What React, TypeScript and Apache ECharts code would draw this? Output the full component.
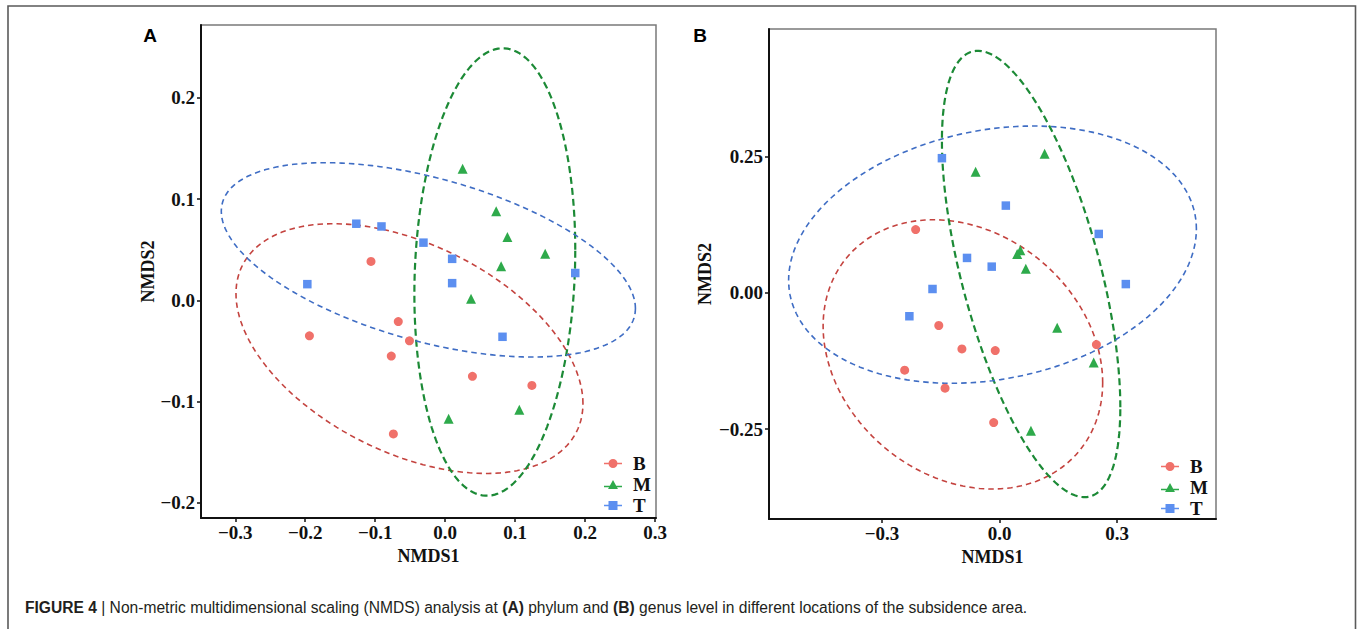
import React, { useEffect, useRef } from 'react';
import * as echarts from 'echarts';

const groups = ['B', 'M', 'T'];
const pointColors = ['#F0716A', '#2EAA4B', '#5C8FF0'];
const ellipseColors = ['#C4433F', '#1C8A36', '#3F6DC4'];

// Panel A (phylum level)
const phylumB = [[-0.106, 0.0385], [-0.194, -0.035], [-0.067, -0.021], [-0.051, -0.04], [-0.077, -0.055], [0.039, -0.075], [0.124, -0.084], [-0.074, -0.132]];
const phylumM = [[0.025, 0.13], [0.073, 0.088], [0.089, 0.0625], [0.143, 0.046], [0.08, 0.0336], [0.037, 0.0016], [0.005, -0.117], [0.106, -0.108]];
const phylumT = [[-0.127, 0.0757], [-0.091, 0.073], [-0.031, 0.057], [0.01, 0.041], [0.01, 0.017], [-0.197, 0.016], [0.186, 0.027], [0.082, -0.036]];

// Panel B (genus level)
const genusB = [[-0.214, 0.116], [-0.155, -0.06], [-0.096, -0.103], [-0.011, -0.106], [-0.242, -0.142], [-0.139, -0.175], [0.247, -0.095], [-0.015, -0.238]];
const genusM = [[0.115, 0.255], [-0.061, 0.222], [0.053, 0.078], [0.045, 0.071], [0.067, 0.044], [0.147, -0.064], [0.24, -0.128], [0.08, -0.253]];
const genusT = [[-0.147, 0.247], [0.016, 0.16], [0.253, 0.108], [-0.083, 0.064], [-0.02, 0.048], [-0.171, 0.007], [0.322, 0.016], [-0.23, -0.043]];

// Ellipse outlines: [xMin, xMax, yMin, yMax, y at xMax]
const phylumEllipseB = [-0.299, 0.197, -0.171, 0.0757, -0.102];
const phylumEllipseM = [-0.044, 0.186, -0.193, 0.249, 0.05];
const phylumEllipseT = [-0.32, 0.272, -0.056, 0.136, -0.008];
const genusEllipseB = [-0.45, 0.263, -0.36, 0.134, -0.165];
const genusEllipseM = [-0.147, 0.308, -0.375, 0.444, -0.21];
const genusEllipseT = [-0.538, 0.502, -0.166, 0.306, 0.117];

// Axis ticks
const phylumXTicks = [-0.3, -0.2, -0.1, 0, 0.1, 0.2, 0.3];
const phylumYTicks = [-0.2, -0.1, 0, 0.1, 0.2];
const genusXTicks = [-0.3, 0, 0.3];
const genusYTicks = [-0.25, 0, 0.25];

const SERIF = '"Liberation Serif", "DejaVu Serif", serif';
const SANS = '"Liberation Sans", Arial, sans-serif';

const fmt = (d: number) => (v: number) => {
  const s = Math.abs(v).toFixed(d);
  return v < -1e-9 ? '\u2212' + s : s;
};

const ellipseRender = (color: string, width: number, dash: number[]) => (params: any, api: any) => {
  const xMin = api.value(0), xMax = api.value(1), yMin = api.value(2), yMax = api.value(3), yAt = api.value(4);
  const cx = (xMin + xMax) / 2, a = (xMax - xMin) / 2;
  const cy = (yMin + yMax) / 2, b = (yMax - yMin) / 2;
  const phi = Math.acos(Math.max(-1, Math.min(1, (yAt - cy) / b)));
  const pts: number[][] = [];
  const n = 160;
  for (let i = 0; i < n; i++) {
    const t = (i / n) * Math.PI * 2;
    pts.push(api.coord([cx + a * Math.cos(t), cy + b * Math.cos(t - phi)]));
  }
  return {
    type: 'polygon',
    shape: { points: pts },
    style: { fill: 'none', stroke: color, lineWidth: width, lineDash: dash },
    silent: true,
  };
};

const icons = [
  'path://M0,4.25H20V5.75H0Z M5,5A5,5,0,1,1,15,5A5,5,0,1,1,5,5Z',
  'path://M0,6.5H20V8H0Z M10,0L15.5,10H4.5Z',
  'path://M0,4.25H20V5.75H0Z M5,0H15V10H5Z',
];
const symbols = ['circle', 'triangle', 'rect'];
const symbolSizes = [9, 10, 8.5];

export default function App() {
  const ref = useRef<HTMLDivElement>(null);
  useEffect(() => {
    if (!ref.current) return;
    const chart = echarts.init(ref.current, undefined, { renderer: 'svg' });

    const axisCommon = (ticks: number[], dec: number) => ({
      type: 'value',
      axisLine: { show: true, onZero: false, lineStyle: { color: '#111', width: 2 } },
      axisTick: { show: true, length: 4, lineStyle: { color: '#111', width: 1.5 }, customValues: ticks },
      axisLabel: { customValues: ticks, formatter: fmt(dec), fontFamily: SERIF, fontWeight: 'bold', fontSize: 19, color: '#111' },
      splitLine: { show: false },
      nameLocation: 'middle',
      nameTextStyle: { fontFamily: SERIF, fontWeight: 'bold', fontSize: 18, color: '#111' },
    });

    const pointSets = [[phylumB, phylumM, phylumT], [genusB, genusM, genusT]];
    const ellSets = [[phylumEllipseB, phylumEllipseM, phylumEllipseT], [genusEllipseB, genusEllipseM, genusEllipseT]];

    const series: any[] = [];
    [0, 1].forEach((p) => {
      groups.forEach((g, i) => {
        series.push({
          type: 'custom',
          name: g + '-ellipse-' + p,
          xAxisIndex: p,
          yAxisIndex: p,
          data: [ellSets[p][i]],
          encode: { x: 0, y: 2 },
          renderItem: ellipseRender(ellipseColors[i], i === 1 ? 2.2 : 1.6, i === 1 ? [7, 4] : [5.5, 4]),
          z: 1,
        });
      });
      groups.forEach((g, i) => {
        series.push({
          type: 'scatter',
          name: g,
          xAxisIndex: p,
          yAxisIndex: p,
          data: pointSets[p][i],
          symbol: symbols[i],
          symbolSize: symbolSizes[i],
          itemStyle: { color: pointColors[i], opacity: 1 },
          z: 3,
        });
      });
    });

    const legendCommon = {
      orient: 'vertical',
      itemWidth: 18,
      itemHeight: 9,
      itemGap: 2,
      selectedMode: false,
      textStyle: { fontFamily: SERIF, fontWeight: 'bold', fontSize: 19, color: '#111', padding: [0, 0, 0, 6], lineHeight: 19 },
      data: groups.map((g, i) => ({ name: g, icon: icons[i], itemStyle: { color: pointColors[i] } })),
    };

    chart.setOption({
      animation: false,
      backgroundColor: '#fff',
      grid: [
        { left: 201, top: 25, width: 455, height: 493, show: true, borderColor: '#7a7a7a', borderWidth: 1.5, backgroundColor: 'transparent' },
        { left: 769, top: 29, width: 447, height: 490, show: true, borderColor: '#7a7a7a', borderWidth: 1.5, backgroundColor: 'transparent' },
      ],
      xAxis: [
        { ...axisCommon(phylumXTicks, 1), gridIndex: 0, min: -0.349, max: 0.3014, name: 'NMDS1', nameGap: 24, axisLabel: { ...axisCommon(phylumXTicks, 1).axisLabel, margin: 5 } },
        { ...axisCommon(genusXTicks, 1), gridIndex: 1, min: -0.588, max: 0.552, name: 'NMDS1', nameGap: 24, axisLabel: { ...axisCommon(genusXTicks, 1).axisLabel, margin: 5 } },
      ],
      yAxis: [
        { ...axisCommon(phylumYTicks, 1), gridIndex: 0, min: -0.215, max: 0.272, name: 'NMDS2', nameGap: 43, axisLabel: { ...axisCommon(phylumYTicks, 1).axisLabel, margin: 6 } },
        { ...axisCommon(genusYTicks, 2), gridIndex: 1, min: -0.415, max: 0.484, name: 'NMDS2', nameGap: 55, axisLabel: { ...axisCommon(genusYTicks, 2).axisLabel, margin: 6 } },
      ],
      legend: [
        { ...legendCommon, left: 599, top: 449 },
        { ...legendCommon, left: 1156, top: 452 },
      ],
      graphic: [
        { type: 'rect', shape: { x: 8, y: 6, width: 1347.5, height: 660 }, style: { fill: 'none', stroke: '#5a5a5a', lineWidth: 1.6 }, silent: true, z: 0 },
        { type: 'text', x: 150, y: 35, style: { text: 'A', font: 'bold 19px ' + SANS, fill: '#000', textAlign: 'center', textVerticalAlign: 'middle' }, z: 10 },
        { type: 'text', x: 700, y: 35, style: { text: 'B', font: 'bold 19px ' + SANS, fill: '#000', textAlign: 'center', textVerticalAlign: 'middle' }, z: 10 },
        {
          type: 'text', x: 25, y: 607, z: 10,
          style: {
            text: '{b|FIGURE 4} | Non-metric multidimensional scaling (NMDS) analysis at {b|(A)} phylum and {b|(B)} genus level in different locations of the subsidence area.',
            font: '15.6px ' + SANS,
            fill: '#231f20',
            textVerticalAlign: 'middle',
            rich: { b: { fontWeight: 'bold', fontSize: 15.6, fontFamily: SANS, fill: '#231f20' } },
          },
        },
      ],
      series,
    });
    return () => chart.dispose();
  }, []);
  return <div ref={ref} style={{ position: 'fixed', left: 0, top: 0, width: 1360, height: 629, background: '#fff' }} />;
}
